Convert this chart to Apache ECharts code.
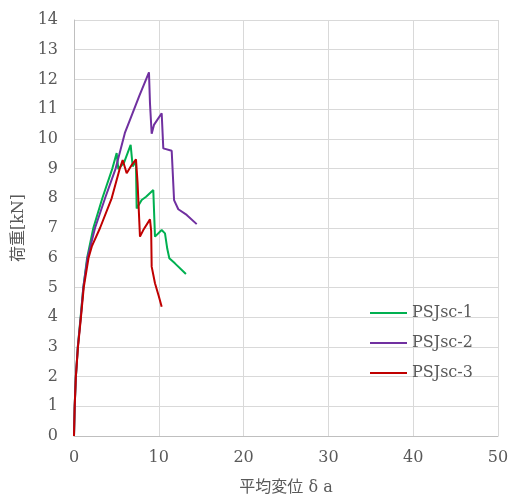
<!DOCTYPE html>
<html lang="ja">
  <head>
    <meta charset="UTF-8" />
    <title>荷重-平均変位</title>
    <style>
      * {
        margin: 0;
        padding: 0;
      }
      html,
      body {
        width: 100%;
        height: 100%;
        background: #fff;
      }
      #chart {
        width: 513px;
        height: 498px;
      }
    </style>
    <script src="https://cdn.jsdelivr.net/npm/echarts@6/dist/echarts.min.js"></script>
  </head>
  <body>
    <div id="chart"></div>
    <script>
      // 凡例名
      var seriesNames = ["PSJsc-1", "PSJsc-2", "PSJsc-3"];

      // [平均変位, 荷重]
      var psj1 = [
        [0, 0], [0.08, 1], [0.22, 2], [0.45, 3], [0.78, 4], [1.1, 5],
        [1.55, 6], [2.28, 7], [3.34, 8], [4.52, 9],
        [5.03, 9.52], [5.23, 8.98], [5.9, 9.2], [6.68, 9.8], [6.92, 9.07],
        [7.3, 9.25], [7.39, 7.66], [7.98, 7.94], [8.5, 8.05], [9.35, 8.28],
        [9.55, 6.71], [10.34, 6.93], [10.73, 6.82], [11.0, 6.3],
        [11.24, 5.98], [11.9, 5.81], [13.2, 5.45]
      ];
      var psj2 = [
        [0, 0], [0.08, 1], [0.22, 2], [0.45, 3], [0.8, 4], [1.1, 5],
        [1.6, 6], [2.48, 7], [3.66, 8], [4.91, 9],
        [6.0, 10.2], [6.6, 10.64], [7.7, 11.45], [8.84, 12.24],
        [8.96, 11.2], [9.16, 10.17], [9.43, 10.47], [10.34, 10.86],
        [10.53, 9.68], [11.52, 9.6], [11.8, 7.94], [12.3, 7.63],
        [13.29, 7.44], [14.47, 7.13]
      ];
      var psj3 = [
        [0, 0], [0.08, 1], [0.22, 2], [0.47, 3], [0.82, 4], [1.15, 5],
        [1.72, 6], [2.1, 6.38], [3.07, 7], [4.44, 8], [5.4, 9], [5.74, 9.29],
        [6.21, 8.84], [6.8, 9.12], [7.31, 9.31], [7.5, 8.5], [7.78, 6.71],
        [7.86, 6.65], [8.17, 6.93], [8.96, 7.29], [9.1, 6.9], [9.16, 5.7],
        [9.55, 5.14], [10.0, 4.7], [10.34, 4.35]
      ];
      var seriesData = [psj1, psj2, psj3];
      var lineColors = ["#00B050", "#7030A0", "#C00000"];

      var fontFamily = "'DejaVu Serif', 'Noto Sans CJK JP', serif";
      var textColor = "#595959";

      var series = seriesNames.map(function (name, i) {
        return {
          name: name,
          type: "line",
          symbol: "none",
          smooth: false,
          lineStyle: { color: lineColors[i], width: 2 },
          itemStyle: { color: lineColors[i] },
          data: seriesData[i],
        };
      });

      var option = {
        backgroundColor: "#fff",
        animation: false,
        textStyle: { fontFamily: fontFamily },
        grid: {
          left: 74,
          right: 15,
          top: 20,
          bottom: 62,
          containLabel: false,
          outerBoundsMode: "none",
        },
        legend: {
          orient: "vertical",
          left: 365,
          top: 300,
          icon: "rect",
          itemWidth: 37,
          itemHeight: 2,
          itemGap: 14,
          data: seriesNames,
          textStyle: { color: textColor, fontSize: 16, fontFamily: fontFamily },
        },
        xAxis: {
          type: "value",
          min: 0,
          max: 50,
          interval: 10,
          name: "平均変位 δ a",
          nameLocation: "middle",
          nameGap: 44,
          nameTextStyle: { color: textColor, fontSize: 16, fontFamily: fontFamily },
          axisLine: { show: true, lineStyle: { color: "#BFBFBF", width: 1 } },
          axisTick: { show: false },
          axisLabel: { color: textColor, fontSize: 16, margin: 14 },
          splitLine: { show: true, lineStyle: { color: "#D9D9D9", width: 1 } },
        },
        yAxis: {
          type: "value",
          min: 0,
          max: 14,
          interval: 1,
          name: "荷重[kN]",
          nameLocation: "middle",
          nameGap: 46,
          nameRotate: 90,
          nameTextStyle: { color: textColor, fontSize: 16, fontFamily: fontFamily },
          axisLine: { show: true, lineStyle: { color: "#BFBFBF", width: 1 } },
          axisTick: { show: false },
          axisLabel: { color: textColor, fontSize: 16, margin: 16 },
          splitLine: { show: true, lineStyle: { color: "#D9D9D9", width: 1 } },
        },
        series: series,
      };

      var myChart = echarts.init(document.getElementById("chart"));
      myChart.setOption(option);
    </script>
  </body>
</html>
